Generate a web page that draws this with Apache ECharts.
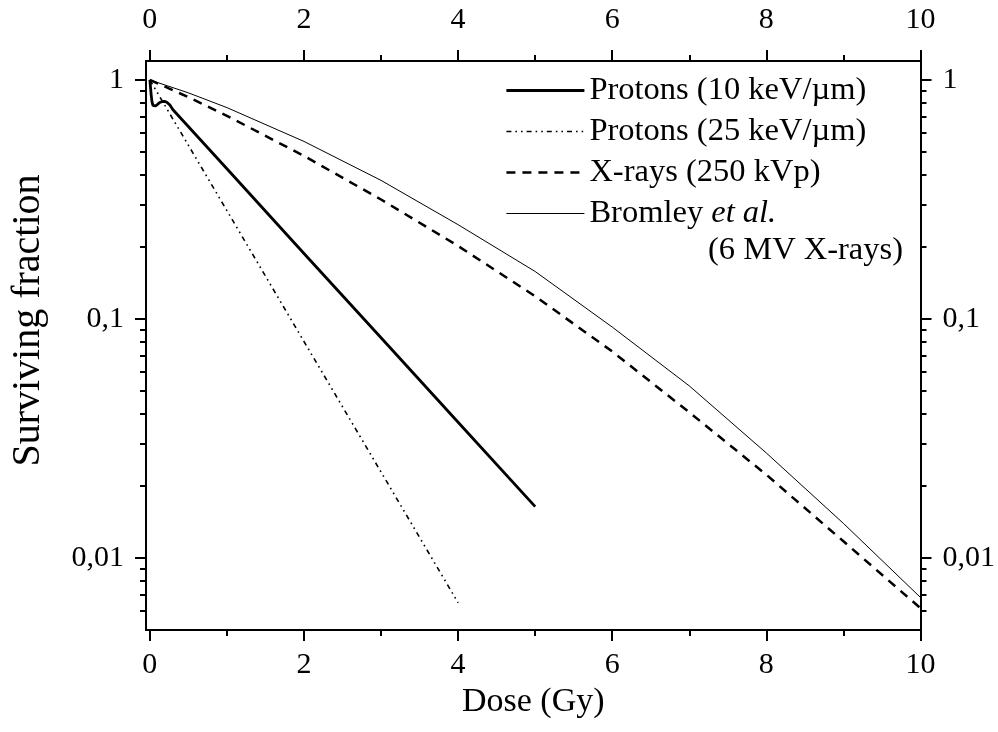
<!DOCTYPE html>
<html>
<head>
<meta charset="utf-8">
<script src="https://cdn.jsdelivr.net/npm/echarts@6/dist/echarts.min.js"></script>
<style>
html,body{margin:0;padding:0;background:#fff;}
#chart{width:998px;height:732px;}
</style>
</head>
<body>
<div id="chart"></div>
<script>
// ---- data ----
var doseP10 = [0, 0.004, 0.01, 0.018, 0.028, 0.04, 0.055, 0.075, 0.1, 0.13, 0.16, 0.19, 0.22, 0.26, 0.3, 1, 2, 3, 4, 5];
var sfP10   = [1, 0.97, 0.92, 0.86, 0.81, 0.783, 0.774, 0.778, 0.792, 0.805, 0.812, 0.814, 0.806, 0.785, 0.75, 0.425, 0.188, 0.0835, 0.037, 0.0164];

var doseP25 = [0, 1, 2, 3, 4];
var sfP25   = [1, 0.284, 0.0805, 0.0229, 0.0065];

var doseXray = [0, 0.5, 1, 2, 3, 4, 5, 6, 7, 8, 9, 10];
var sfXray   = [1, 0.847, 0.708, 0.481, 0.316, 0.202, 0.1245, 0.0731, 0.0407, 0.0223, 0.01175, 0.00617];

var doseBrom = [0, 0.5, 1, 2, 3, 4, 5, 6, 7, 8, 9, 10];
var sfBrom   = [1, 0.883, 0.766, 0.553, 0.38, 0.248, 0.158, 0.0925, 0.0525, 0.0275, 0.01396, 0.00684];

var seriesNames = ['Protons (10 keV/\u00b5m)', 'Protons (25 keV/\u00b5m)', 'X-rays (250 kVp)', 'Bromley et al.'];
var subNote = '(6 MV X-rays)';

var xMajorTicks = [0, 2, 4, 6, 8, 10];
var xMinorTicks = [1, 3, 5, 7, 9];
var yMajorTicks = [0.01, 0.1, 1];
var yMinorTicks = [0.006, 0.007, 0.008, 0.009, 0.02, 0.03, 0.04, 0.05, 0.06, 0.07, 0.08, 0.09, 0.2, 0.3, 0.4, 0.5, 0.6, 0.7, 0.8, 0.9];

function pairs(xs, ys) { return xs.map(function (x, i) { return [x, ys[i]]; }); }

var FONT = 'Liberation Serif';
var black = '#000';

var lineStyles = [
  { color: black, width: 2.8, type: 'solid' },
  { color: black, width: 1.6, type: [5, 4, 1.6, 4, 1.6, 4] },
  { color: black, width: 2.5, type: [9, 7] },
  { color: black, width: 1, type: 'solid' }
];

function xAxisDef(pos, ticks, len, withLabels, withLine) {
  return {
    type: 'value', position: pos, min: -0.05, max: 10,
    axisLine: { show: withLine, onZero: false, lineStyle: { color: black, width: 2 } },
    axisTick: { show: true, inside: false, length: len, customValues: ticks, lineStyle: { color: black, width: 2 } },
    axisLabel: withLabels ? { show: true, customValues: ticks, color: black, fontFamily: FONT, fontSize: 30, margin: pos === 'top' ? 26 : 20 } : { show: false },
    splitLine: { show: false }
  };
}
function yAxisDef(pos, ticks, len, withLabels, withLine) {
  return {
    type: 'log', logBase: 10, position: pos, min: 0.005, max: 1.2,
    axisLine: { show: withLine, onZero: false, lineStyle: { color: black, width: 2 } },
    axisTick: { show: true, inside: false, length: len, customValues: ticks, lineStyle: { color: black, width: 2 } },
    axisLabel: withLabels ? {
      show: true, customValues: ticks, color: black, fontFamily: FONT, fontSize: 30, margin: 22,
      formatter: function (v) { return String(+v.toPrecision(3)).replace('.', ','); }
    } : { show: false },
    splitLine: { show: false }
  };
}

var xAxes = [
  xAxisDef('bottom', xMajorTicks, 11, true, true),
  xAxisDef('bottom', xMinorTicks, 6, false, false),
  xAxisDef('top', xMajorTicks, 11, true, true),
  xAxisDef('top', xMinorTicks, 6, false, false)
];
xAxes[0].name = 'Dose (Gy)';
xAxes[0].nameLocation = 'middle';
xAxes[0].nameGap = 37;
xAxes[0].nameTextStyle = { color: black, fontFamily: FONT, fontSize: 34 };

var yAxes = [
  yAxisDef('left', yMajorTicks, 11, true, true),
  yAxisDef('left', yMinorTicks, 6, false, false),
  yAxisDef('right', yMajorTicks, 11, true, true),
  yAxisDef('right', yMinorTicks, 6, false, false)
];
yAxes[0].name = 'Surviving fraction';
yAxes[0].nameLocation = 'middle';
yAxes[0].nameGap = 98;
yAxes[0].nameTextStyle = { color: black, fontFamily: FONT, fontSize: 40, padding: [0, 0, 0, 50] };

var legendFont = 32.5;

var chart = echarts.init(document.getElementById('chart'), null, { renderer: 'canvas' });
chart.setOption({
  backgroundColor: '#fff',
  animation: false,
  title: {
    text: subNote, right: 90, top: 229,
    textStyle: { color: black, fontFamily: FONT, fontSize: legendFont, fontWeight: 'normal' }
  },
  grid: { left: 144, right: 77, top: 61, bottom: 102, containLabel: false },
  legend: {
    orient: 'vertical', left: 500, top: 69, itemWidth: 78, itemHeight: 14, itemGap: 8,
    itemStyle: { color: 'rgba(0,0,0,0)', borderWidth: 0, opacity: 0 },
    textStyle: {
      color: black, fontFamily: FONT, fontSize: legendFont, lineHeight: 32,
      rich: { i: { fontStyle: 'italic', fontFamily: FONT, fontSize: legendFont, color: black } }
    },
    formatter: function (name) { return name === 'Bromley et al.' ? 'Bromley {i|et al.}' : name; },
    data: seriesNames.map(function (n, i) {
      return { name: n, lineStyle: { color: black, width: lineStyles[i].width, type: lineStyles[i].type } };
    })
  },
  xAxis: xAxes,
  yAxis: yAxes,
  series: [
    { name: seriesNames[0], type: 'line', symbol: 'none', data: pairs(doseP10, sfP10), lineStyle: lineStyles[0], itemStyle: { color: black } },
    { name: seriesNames[1], type: 'line', symbol: 'none', data: pairs(doseP25, sfP25), lineStyle: lineStyles[1], itemStyle: { color: black } },
    { name: seriesNames[2], type: 'line', symbol: 'none', data: pairs(doseXray, sfXray), lineStyle: lineStyles[2], itemStyle: { color: black } },
    { name: seriesNames[3], type: 'line', symbol: 'none', data: pairs(doseBrom, sfBrom), lineStyle: lineStyles[3], itemStyle: { color: black } }
  ]
});
</script>
</body>
</html>
